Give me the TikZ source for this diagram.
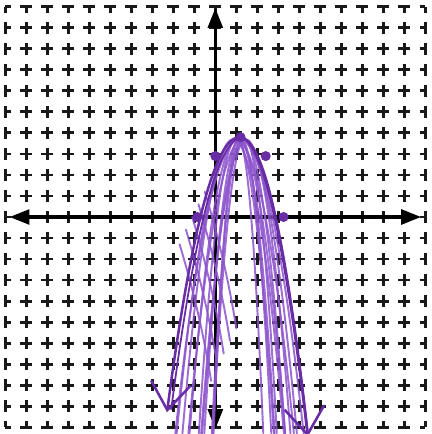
\documentclass[tikz,border=0pt]{standalone}
\usetikzlibrary{arrows.meta}
\definecolor{pendark}{RGB}{104,44,164}
\definecolor{penlight}{RGB}{140,84,204}

\begin{document}
\begin{tikzpicture}[
  >={Triangle[length=9.5mm,width=7mm]},
  gridline/.style={line width=4pt, black!90, dash pattern=on 5.6mm off 4.4mm, dash phase=2.8mm},
  axis/.style={<->, line width=4.6pt, black},
  curve/.style={line width=3.4pt, pendark, line cap=round, line join=round},
  hatch/.style={line width=2.6pt, penlight, opacity=0.85, line cap=round},
  pendot/.style={circle, fill=pendark, inner sep=0pt, minimum size=4.8mm}
]
\useasboundingbox (-10.25,-10.33) rectangle (10.29,10.33);

% dashed grid
\foreach \i in {-10,...,10} {
  \draw[gridline] (-10,\i) -- (10,\i);
  \draw[gridline] (\i,-10) -- (\i,10);
}

% axes
\coordinate (xl) at (-9.8,0);
\coordinate (xr) at (9.8,0);
\coordinate (yt) at (0,9.95);
\coordinate (yb) at (0,-10.1);
\draw[axis] (xl) -- (xr);
\draw[axis] (yb) -- (yt);

% shading strokes inside the parabola
\foreach \k/\dx in {1.5/0, 1.8/-0.2, 2.1/0.15, 2.4/-0.3, 2.7/-0.1, 3.1/0.3, 3.6/0.2, 4.4/-0.15, 5/0, 6/0.25, 7/0.1, 10/-0.05} {
  \pgfmathsetmacro\w{sqrt(14/\k)}
  \draw[hatch] plot[domain=-\w:\w, samples=31, smooth] ({1.15+\dx+\x}, {3.7-\k*\x*\x});
}
\foreach \a/\b in {-0.5/1.2, -0.8/0.6, -1.1/0, -1.4/-0.6, -1.7/-1.3} {
  \draw[hatch] (\a,\b) .. controls (\a+0.6,\b-2) and (\a+1.1,\b-4) .. (\a+1.5,\b-6.5);
}

% the parabola
\draw[curve, {Straight Barb[length=13mm,width=19mm]}-{Straight Barb[length=13mm,width=19mm]}]
  plot[domain=-2.3:4.4, samples=61, smooth] (\x, {3.8-(\x<1.15 ? 1.1 : 1.35)*(\x-1.15)^2});
\draw[curve, line width=2.4pt]
  plot[domain=-2.2:4.3, samples=61, smooth] (\x+0.1, {3.75-(\x<1.15 ? 1.15 : 1.4)*(\x-1.15)^2});

% plotted points
\node[pendot] (vx) at (1.2,3.8) {};
\node[pendot] (yi) at (0,2.9) {};
\node[pendot] (pt) at (2.4,2.9) {};
\node[pendot] (xa) at (-0.85,0) {};
\node[pendot] (xb) at (3.25,0) {};
\end{tikzpicture}
\end{document}
